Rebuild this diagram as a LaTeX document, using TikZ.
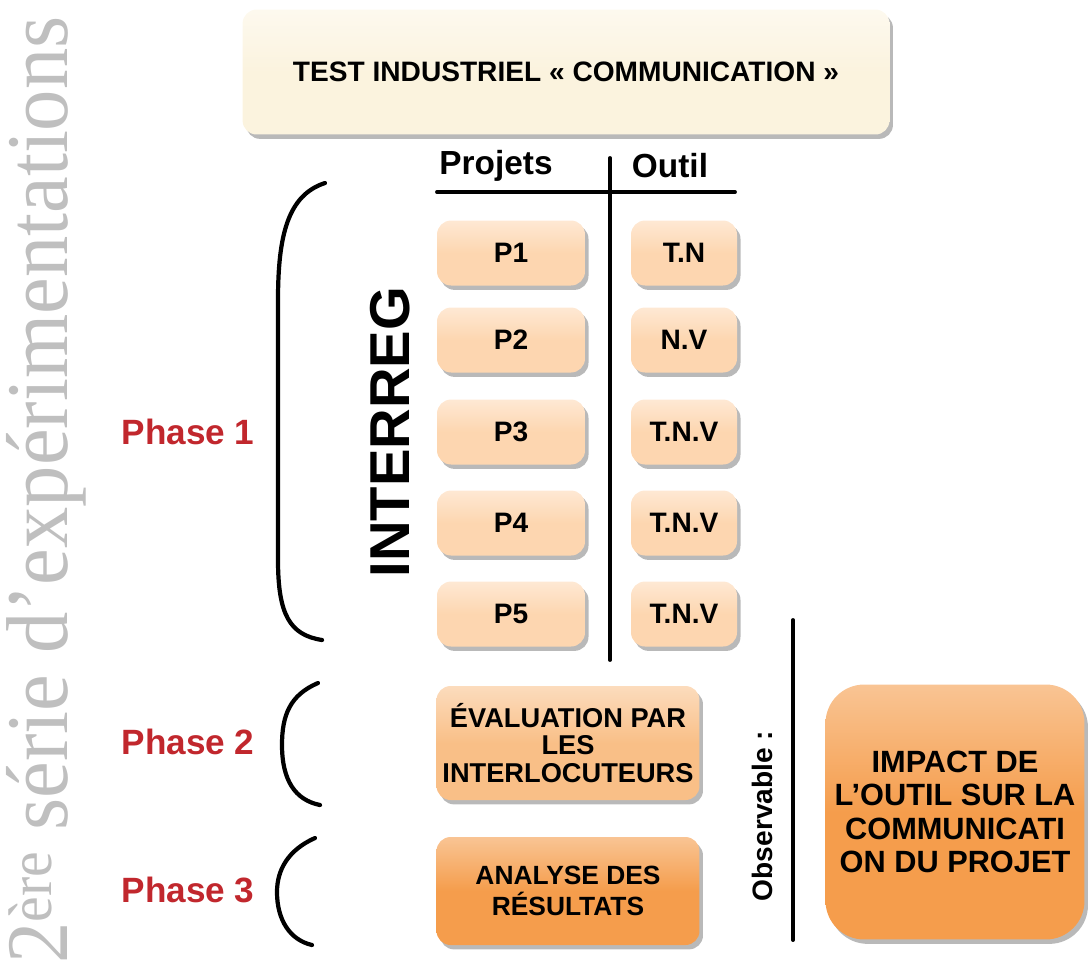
\documentclass[tikz,border=0pt]{standalone}
\usepackage{fontspec}
\setmainfont{Liberation Sans}
\newfontfamily\titrefont{Liberation Serif}
\usetikzlibrary{shadows, positioning}

\definecolor{creme}{HTML}{FBF3DE}
\definecolor{peche}{HTML}{FDD6B0}
\definecolor{orangeclair}{HTML}{F9BF87}
\definecolor{orangefonce}{HTML}{F59D4C}
\definecolor{rougephase}{HTML}{C1272D}

\tikzset{
	boite/.style={rounded corners=8pt, align=center, inner sep=0pt,
		drop shadow={shadow xshift=2pt, shadow yshift=-2.5pt, opacity=.55},
		font=\bfseries\fontsize{16}{19}\selectfont},
	projet/.style={boite, top color=peche!55!white, bottom color=peche, middle color=peche, minimum width=2.96cm, minimum height=1.3cm},
	outil/.style={projet, minimum width=2.12cm},
	entete/.style={font=\bfseries\fontsize{19}{21}\selectfont},
	trait/.style={line width=2.2pt, line cap=round},
	accolade/.style={line width=2.4pt, line cap=round},
	phase/.style={text=rougephase, font=\bfseries\fontsize{20}{22}\selectfont}
}

\begin{document}
\begin{tikzpicture}[x=0.02cm, y=-0.02cm]
	\useasboundingbox (0,0) rectangle (1088,975);
	
	% titre vertical
	\node[rotate=90, text=gray!50, font=\titrefont\fontsize{50}{50}\selectfont] (serie) at (46,490) {\scalebox{0.94}[1]{2\textsuperscript{ère} série d’expérimentations}};
	
	\node[boite, top color=creme!50!white, bottom color=creme, middle color=creme, minimum width=12.94cm, minimum height=2.5cm] (test) at (566,72) {TEST INDUSTRIEL « COMMUNICATION »};
	
	%%%%%%%%%%%%%%%%%%%%%%%%%%%%%%
	
	\node[entete] (projets) at (496,166) {Projets};
	\node[entete] (outil) at (670,166) {Outil};
	\draw[trait] (437,192) -- (735,192);
	\draw[trait] (610,158) -- (610,660);
	
	\foreach \p/\o/\y in {1/T.N/253, 2/N.V/340, 3/T.N.V/432, 4/T.N.V/523, 5/T.N.V/614}{
		\node[projet] (p\p) at (511,\y) {P\p};
		\node[outil] (o\p) at (684,\y) {\o};
	}
	
	\node[rotate=90, font=\bfseries\fontsize{32}{32}\selectfont] (interreg) at (390,432) {INTERREG};
	
	%%%%%%%%%%%%%%%%%%%%%%%%%%%%%%
	
	\node[phase] (phase1) at (188,432) {Phase 1};
	\node[phase] (phase2) at (188,742) {Phase 2};
	\node[phase] (phase3) at (188,890) {Phase 3};
	
	\draw[accolade] (325,183) .. controls (288,195) and (278,235) .. (278,300) -- (278,560) .. controls (278,615) and (290,635) .. (322,640);
	\draw[accolade] (318,683) .. controls (290,695) and (282,715) .. (282,745) .. controls (282,780) and (295,800) .. (320,805);
	\draw[accolade] (315,838) .. controls (288,850) and (277,870) .. (277,892) .. controls (277,920) and (290,940) .. (312,945);
	
	%%%%%%%%%%%%%%%%%%%%%%%%%%%%%%
	
	\node[boite, top color=orangeclair!55!white, bottom color=orangeclair, middle color=orangeclair, minimum width=5.26cm, minimum height=2.28cm, font=\bfseries\fontsize{15.5}{15.5}\selectfont] (eval) at (568,743) {ÉVALUATION PAR\\LES\\INTERLOCUTEURS};
	\node[boite, top color=orangefonce!60!white, bottom color=orangefonce, middle color=orangefonce, minimum width=5.26cm, minimum height=2.16cm, font=\bfseries\fontsize{15}{18}\selectfont] (analyse) at (568,891) {ANALYSE DES\\RÉSULTATS};
	
	\node[rotate=90, font=\bfseries\fontsize{16}{18}\selectfont] (observable) at (762,816) {Observable :};
	\draw[trait] (793,620) -- (793,940);
	
	\node[boite, rounded corners=22pt, top color=orangefonce!60!white, bottom color=orangefonce, middle color=orangefonce, minimum width=5.18cm, minimum height=5.1cm, font=\bfseries\fontsize{17.5}{19}\selectfont] (impact) at (955,812) {IMPACT DE\\L’OUTIL SUR LA\\COMMUNICATI\\ON DU PROJET};
\end{tikzpicture}
\end{document}
